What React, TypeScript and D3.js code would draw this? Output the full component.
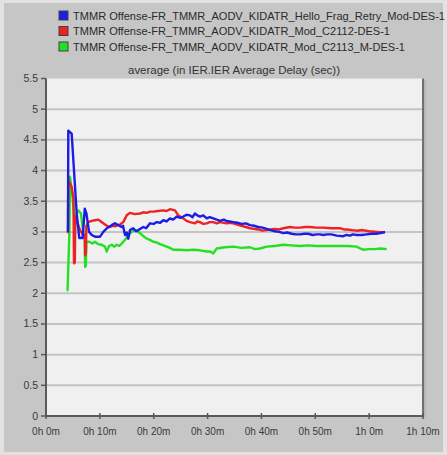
import React from "react";
import * as d3 from "d3";

const seriesNames = [
  "TMMR Offense-FR_TMMR_AODV_KIDATR_Hello_Frag_Retry_Mod-DES-1",
  "TMMR Offense-FR_TMMR_AODV_KIDATR_Mod_C2112-DES-1",
  "TMMR Offense-FR_TMMR_AODV_KIDATR_Mod_C2113_M-DES-1",
];
const seriesColors = ["#1c1ce6", "#ee2222", "#22e022"];

const blueMin = [4.08, 4.14, 4.77, 5.7, 6.18, 6.8, 7.2, 7.5, 8.0, 8.5, 9.2, 10.0, 10.64, 11.3, 12.2, 12.8, 13.4, 14.05, 14.3, 14.67, 15.0, 15.28, 15.6, 16.2, 16.7, 17.14, 18.07, 18.6, 19.31, 20.0, 20.55, 21.2, 21.78, 22.4, 23.02, 23.6, 24.27, 24.9, 25.49, 26.1, 26.74, 27.2, 27.66, 28.1, 28.59, 29.2, 29.84, 30.4, 31.06, 31.7, 32.31, 33.0, 33.5, 34.1, 34.78, 35.5, 36.3, 37.1, 37.88, 38.6, 39.4, 40.2, 40.98, 41.7, 42.5, 43.3, 44.06, 44.8, 45.6, 46.4, 47.16, 48.0, 48.7, 49.5, 50.26, 50.9, 51.48, 52.2, 53.0, 54.0, 55.2, 55.8, 56.44, 57.0, 57.69, 58.6, 59.54, 60.4, 61.3, 62.1, 62.94];
const blueVal = [3.0, 4.65, 4.6, 3.3, 2.9, 2.9, 3.38, 3.3, 3.0, 2.95, 2.92, 2.92, 3.0, 3.06, 3.11, 3.14, 3.11, 3.08, 3.1, 2.95, 2.99, 2.89, 3.03, 3.06, 3.01, 3.03, 3.08, 3.06, 3.14, 3.13, 3.16, 3.15, 3.19, 3.17, 3.22, 3.2, 3.25, 3.23, 3.25, 3.28, 3.27, 3.24, 3.3, 3.27, 3.25, 3.27, 3.22, 3.24, 3.22, 3.2, 3.18, 3.2, 3.18, 3.17, 3.16, 3.15, 3.13, 3.14, 3.11, 3.1, 3.08, 3.07, 3.05, 3.03, 3.01, 3.0, 2.98, 2.99, 2.97, 2.96, 2.96, 2.97, 2.97, 2.95, 2.96, 2.96, 2.95, 2.96, 2.96, 2.94, 2.93, 2.95, 2.94, 2.96, 2.95, 2.95, 2.96, 2.97, 2.97, 2.98, 3.0];

const redMin = [4.08, 4.14, 4.77, 5.1, 5.2, 5.35, 5.45, 6.3, 6.93, 7.2, 7.26, 7.4, 7.5, 7.85, 8.5, 9.1, 9.71, 10.2, 10.64, 11.3, 11.88, 12.4, 12.81, 13.3, 13.74, 14.35, 14.98, 15.6, 16.5, 17.45, 18.1, 18.7, 19.3, 19.92, 20.8, 21.78, 22.4, 23.02, 23.95, 24.56, 25.49, 26.1, 26.74, 27.66, 28.1, 28.59, 29.2, 29.84, 30.4, 31.06, 31.7, 32.31, 33.5, 34.1, 34.78, 35.5, 36.3, 37.1, 37.88, 38.6, 39.4, 40.2, 40.98, 41.7, 42.5, 43.3, 44.06, 45.3, 46.2, 47.16, 48.1, 49.02, 50.2, 51.5, 53.0, 54.59, 55.3, 56.0, 56.8, 57.69, 58.8, 60.0, 61.5, 62.94];
const redVal = [2.98, 3.84, 3.73, 3.55, 2.49, 2.5, 3.25, 3.03, 2.95, 2.95, 2.62, 2.65, 3.1, 3.16, 3.18, 3.19, 3.2, 3.17, 3.14, 3.1, 3.08, 3.1, 3.09, 3.11, 3.12, 3.16, 3.27, 3.31, 3.29, 3.3, 3.32, 3.31, 3.33, 3.33, 3.34, 3.35, 3.34, 3.37, 3.35, 3.27, 3.22, 3.18, 3.16, 3.14, 3.17, 3.16, 3.13, 3.14, 3.16, 3.16, 3.14, 3.16, 3.14, 3.15, 3.14, 3.12, 3.1, 3.08, 3.06, 3.05, 3.04, 3.02, 3.03, 3.04, 3.05, 3.04, 3.06, 3.08, 3.07, 3.07, 3.08, 3.08, 3.07, 3.07, 3.06, 3.06, 3.04, 3.04, 3.03, 3.02, 3.03, 3.01, 3.0, 2.99];

const greenMin = [3.84, 4.0, 4.33, 4.46, 5.0, 5.4, 5.7, 6.0, 6.5, 6.93, 7.2, 7.26, 7.4, 7.5, 8.04, 8.6, 9.1, 9.7, 10.34, 10.95, 11.27, 11.7, 12.2, 12.7, 13.13, 13.6, 14.05, 14.67, 15.28, 15.91, 16.52, 17.45, 18.1, 18.7, 19.3, 19.92, 20.5, 21.17, 21.8, 22.4, 23.0, 23.63, 24.8, 26.12, 27.3, 28.59, 29.84, 30.45, 31.06, 31.69, 33.2, 34.78, 36.3, 37.88, 38.8, 39.73, 40.98, 42.5, 44.06, 45.6, 47.16, 48.7, 50.26, 52.2, 54.0, 56.0, 57.69, 58.3, 58.91, 60.0, 61.0, 62.1, 63.26];
const greenVal = [2.05, 2.05, 2.95, 3.9, 3.5, 3.1, 3.3, 3.35, 3.3, 2.98, 2.9, 2.43, 2.45, 2.84, 2.84, 2.81, 2.84, 2.8, 2.79, 2.76, 2.68, 2.77, 2.79, 2.76, 2.79, 2.77, 2.81, 2.87, 2.95, 3.0, 3.03, 2.98, 2.93, 2.89, 2.87, 2.84, 2.83, 2.8, 2.78, 2.76, 2.74, 2.71, 2.71, 2.7, 2.71, 2.7, 2.68, 2.68, 2.65, 2.73, 2.75, 2.76, 2.74, 2.75, 2.72, 2.73, 2.76, 2.77, 2.79, 2.78, 2.77, 2.78, 2.77, 2.77, 2.77, 2.77, 2.76, 2.73, 2.71, 2.72, 2.72, 2.73, 2.72];

const yTicks = [0, 0.5, 1, 1.5, 2, 2.5, 3, 3.5, 4, 4.5, 5, 5.5];
const xTicks = [0, 10, 20, 30, 40, 50, 60, 70];
const xTickLabels = ["0h 0m", "0h 10m", "0h 20m", "0h 30m", "0h 40m", "0h 50m", "1h 0m", "1h 10m"];
const chartTitle = "average (in IER.IER Average Delay (sec))";

export default function App() {
  const W = 447, H = 455;
  const x = d3.scaleLinear().domain([0, 70]).range([46, 423]);
  const y = d3.scaleLinear().domain([0, 5.5]).range([416, 78.5]);
  const line = d3
    .line<[number, number]>()
    .x((d) => x(d[0]))
    .y((d) => y(d[1]));
  const zip = (a: number[], b: number[]) => a.map((v, i) => [v, b[i]] as [number, number]);
  const series = [zip(blueMin, blueVal), zip(redMin, redVal), zip(greenMin, greenVal)];
  const drawOrder = [2, 1, 0];
  const font = "'Liberation Sans', Arial, sans-serif";
  const legendWidths = [372, 317, 332];

  return (
    <svg width={W} height={H} style={{ position: "absolute", left: 0, top: 0 }} fontFamily={font}>
      <defs>
        <linearGradient id="smear" x1="0" x2="1" y1="0" y2="0">
          <stop offset="0" stopColor="#b0b0b0" stopOpacity="0" />
          <stop offset="0.2" stopColor="#a8a8a8" stopOpacity="0.7" />
          <stop offset="0.8" stopColor="#a8a8a8" stopOpacity="0.7" />
          <stop offset="1" stopColor="#b0b0b0" stopOpacity="0" />
        </linearGradient>
        <filter id="blur1"><feGaussianBlur stdDeviation="0.6" /></filter>
      </defs>
      <rect x={0} y={0} width={W} height={H} fill="#e2e2e2" />
      <rect x={4} y={3} width={439} height={449} fill="#c6c6c6" />
      <rect x={x(0)} y={y(5.5)} width={x(70) - x(0)} height={y(0) - y(5.5)} fill="#f0f0f0" stroke="#d8d8d8" />
      {yTicks.filter((t) => t > 0 && t < 5.5).map((t) => (
        <line key={"g" + t} x1={x(0)} x2={x(70)} y1={y(t)} y2={y(t)} stroke="#c4c4c4" strokeWidth={2} />
      ))}
      <line x1={118} x2={305} y1={190} y2={190} stroke="url(#smear)" strokeWidth={2.5} filter="url(#blur1)" />
      <line x1={x(0)} x2={x(0)} y1={y(5.5)} y2={y(0) + 1} stroke="#5a5a5a" strokeWidth={2} />
      <line x1={x(0)} x2={x(70) + 1} y1={y(0)} y2={y(0)} stroke="#5a5a5a" strokeWidth={2} />
      <line x1={x(70)} x2={x(70)} y1={y(5.5)} y2={y(0)} stroke="#707070" strokeWidth={2} />
      <line x1={x(70) + 2} x2={x(70) + 2} y1={y(5.5) + 2} y2={y(0) + 1} stroke="#a8a8a8" strokeWidth={1} />
      {yTicks.map((t) => (
        <g key={"y" + t}>
          <line x1={x(0) - 5} x2={x(0)} y1={y(t)} y2={y(t)} stroke="#5a5a5a" strokeWidth={1.5} />
          <text x={38} y={y(t) + 3.5} textAnchor="end" fontSize={10.5} fill="#3a3a3a">{t}</text>
        </g>
      ))}
      {xTicks.map((t, i) => (
        <g key={"x" + t}>
          <line x1={x(t)} x2={x(t)} y1={y(0) - 3} y2={y(0) + 3} stroke="#5a5a5a" strokeWidth={1.5} />
          <text x={x(t)} y={435} textAnchor="middle" fontSize={10} fill="#3a3a3a">{xTickLabels[i]}</text>
        </g>
      ))}
      {drawOrder.map((i) => (
        <path key={"s" + i} d={line(series[i]) || ""} fill="none" stroke={seriesColors[i]} strokeWidth={2.4} strokeLinejoin="round" />
      ))}
      <text x={234} y={74} textAnchor="middle" fontSize={10} fill="#333" textLength={212} lengthAdjust="spacingAndGlyphs">{chartTitle}</text>
      {seriesNames.map((n, i) => (
        <g key={"l" + i}>
          <rect x={59} y={11 + i * 15.5} width={9} height={9} fill={seriesColors[i]} stroke="#404040" strokeWidth={1} />
          <text x={73} y={19.5 + i * 15.5} fontSize={10.5} fill="#2a2a2a" textLength={legendWidths[i]} lengthAdjust="spacingAndGlyphs">{n}</text>
        </g>
      ))}
    </svg>
  );
}
